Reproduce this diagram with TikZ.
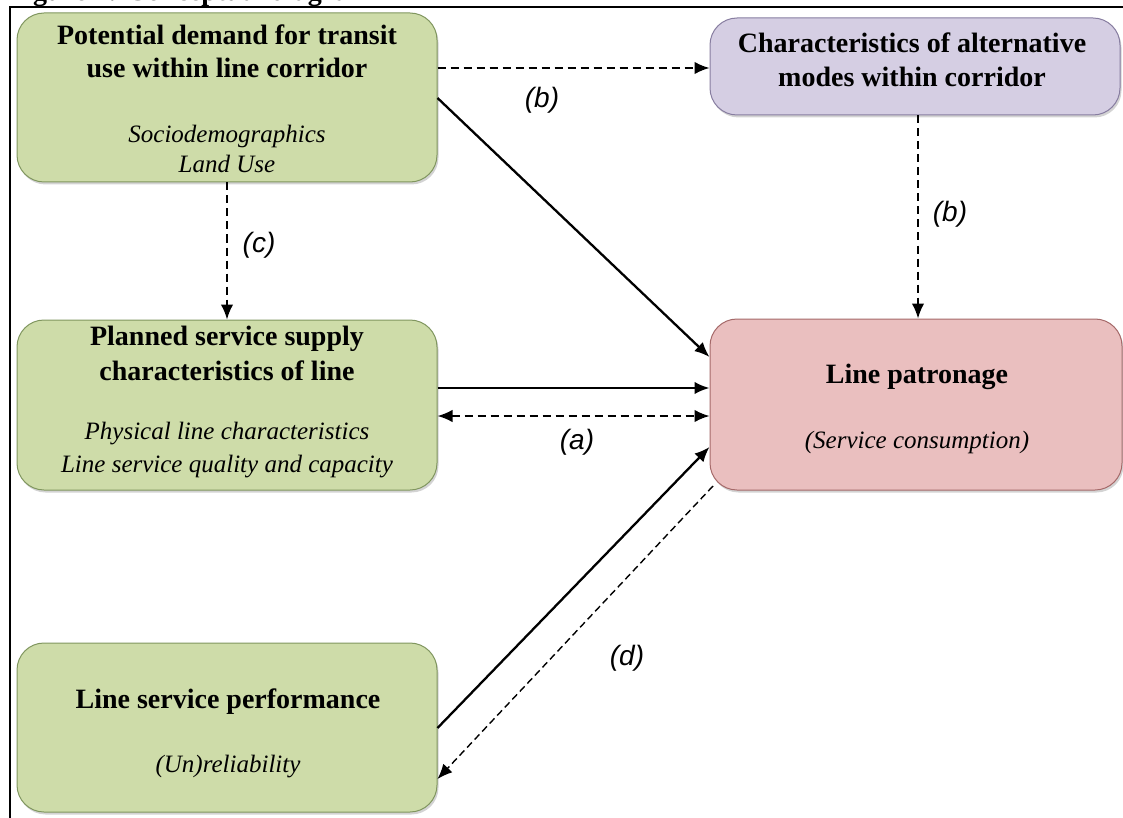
\documentclass[tikz,border=0pt]{standalone}
\usepackage{fontspec}
\setmainfont{Liberation Serif}
\newfontfamily\lblfont{Liberation Sans}
\usetikzlibrary{arrows.meta,shadows}
\definecolor{gfill}{RGB}{206,220,169}
\definecolor{gdraw}{RGB}{128,150,95}
\definecolor{pfill}{RGB}{213,206,227}
\definecolor{pdraw}{RGB}{135,125,160}
\definecolor{rfill}{RGB}{234,191,191}
\definecolor{rdraw}{RGB}{165,105,105}
\begin{document}
\begin{tikzpicture}[x=1pt,y=-1pt,
  box/.style={draw, rounded corners=27pt, line width=1pt, inner sep=0pt,
    drop shadow={shadow xshift=1.5pt, shadow yshift=-2.5pt, opacity=0.35}},
  greenbox/.style={box, fill=gfill, draw=gdraw},
  purplebox/.style={box, fill=pfill, draw=pdraw},
  redbox/.style={box, fill=rfill, draw=rdraw},
  head/.style={anchor=base, inner sep=0pt, font=\fontsize{28}{33}\selectfont\bfseries},
  sub/.style={anchor=base, inner sep=0pt, font=\fontsize{25}{30}\selectfont\itshape},
  lbl/.style={inner sep=0pt, font=\fontsize{28}{32}\selectfont\lblfont\itshape},
  tip/.style={-{Latex[length=15pt,width=12.5pt]}},
  solidarrow/.style={tip, line width=2.3pt},
  dasharrow/.style={tip, line width=1.8pt, dash pattern=on 8pt off 5pt},
]
\useasboundingbox (0,0) rectangle (1123,818);
% clipped title and frame
\begin{scope}
\clip (0,0) rectangle (1123,818);
\node[head, anchor=base west] (title) at (8,1) {Figure 1: Conceptual diagram};
\end{scope}
\draw[line width=2pt] (1123,7) -- (10,7) -- (10,818);

% boxes
\node[greenbox, minimum width=420pt, minimum height=169pt] (A) at (227,97.5) {};
\node[purplebox, minimum width=410pt, minimum height=97pt] (B) at (915,66.5) {};
\node[greenbox, minimum width=420pt, minimum height=170pt] (C) at (227,405) {};
\node[redbox, minimum width=412pt, minimum height=171pt] (D) at (916,404.5) {};
\node[greenbox, minimum width=420pt, minimum height=169pt] (E) at (227,727.5) {};

% texts
\node[head] (A1) at (227,45) {Potential demand for transit};
\node[head] (A2) at (227,78) {use within line corridor};
\node[sub] (A3) at (227,143) {Sociodemographics};
\node[sub] (A4) at (227,173) {Land Use};
\node[head] (B1) at (912,53) {Characteristics of alternative};
\node[head] (B2) at (912,87) {modes within corridor};
\node[head] (C1) at (227,345) {Planned service supply};
\node[head] (C2) at (227,380) {characteristics of line};
\node[sub] (C3) at (227,439) {Physical line characteristics};
\node[sub] (C4) at (227,472) {Line service quality and capacity};
\node[head] (D1) at (917,383) {Line patronage};
\node[sub] (D2) at (917,448) {(Service consumption)};
\node[head] (E1) at (228,708) {Line service performance};
\node[sub] (E2) at (228,772) {(Un)reliability};

% connectors
\draw[dasharrow] (A.east |- 0,68) -- (B.west |- 0,68);
\draw[solidarrow] (A.east |- 0,98) -- (D.west |- 0,357);
\draw[dasharrow] (B.south -| 918,0) -- (D.north -| 918,0);
\draw[dasharrow] (A.south) -- (C.north);
\draw[solidarrow] (C.east |- 0,388) -- (D.west |- 0,388);
\draw[dasharrow, {Latex[length=15pt,width=12.5pt]}-{Latex[length=15pt,width=12.5pt]}] (C.east |- 0,416) -- (D.west |- 0,416);
\draw[solidarrow] (E.east |- 0,728) -- (D.west |- 0,447);
\coordinate (Dcorner) at (713,486);
\draw[dasharrow, line width=1.4pt, dash pattern=on 7pt off 4pt] (Dcorner) -- (E.east |- 0,779);

% labels
\node[lbl] (lb1) at (542,100) {(b)};
\node[lbl] (lb2) at (950,214) {(b)};
\node[lbl] (lc) at (259,245) {(c)};
\node[lbl] (la) at (577,442) {(a)};
\node[lbl] (ld) at (627,658) {(d)};
\end{tikzpicture}
\end{document}
